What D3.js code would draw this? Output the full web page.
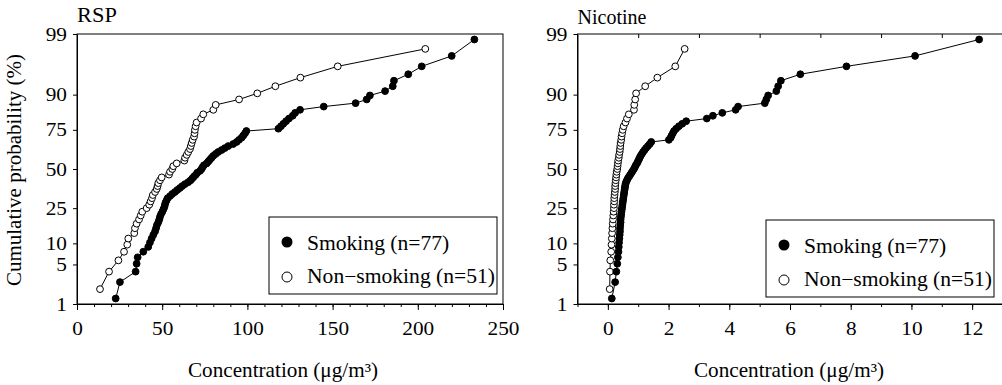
<!DOCTYPE html>
<html>
<head>
<meta charset="utf-8">
<script src="https://cdn.jsdelivr.net/npm/d3@7"></script>
<style>
  body { margin: 0; background: #fff; }
</style>
</head>
<body>
<div id="graph"></div>
<script>
// cumulative probability ticks (%)
const probTicks = [1, 5, 10, 25, 50, 75, 90, 99];

// RSP concentrations (ug/m3), sorted
const rspSmoking = [22.7, 25.2, 34.4, 35.0, 35.6, 38.9, 41.8, 42.8, 43.8, 44.8, 45.8, 46.4, 46.9, 47.7, 48.3,
  48.7, 49.3, 50.1, 50.7, 51.3, 51.6, 52.0, 52.6, 53.2, 54.6, 55.9, 57.5, 58.9, 60.4, 61.8, 63.4, 65.3, 66.7,
  67.7, 68.7, 69.8, 70.6, 72.2, 73.1, 73.7, 74.5, 76.1, 77.1, 78.0, 79.0, 80.0, 81.4, 82.9, 84.9, 86.8, 88.8,
  91.7, 93.7, 95.1, 96.6, 97.6, 98.6, 99.4, 118.2, 119.7, 121.1, 122.7, 124.4, 126.6, 128.0, 130.9, 144.8,
  163.5, 170.0, 171.9, 180.8, 185.3, 186.0, 194.4, 202.3, 219.9, 233.2];
const rspNonSmoking = [13.5, 18.8, 24.3, 27.6, 29.5, 30.1, 33.6, 34.0, 35.0, 36.4, 37.4, 38.3, 40.9, 42.4, 43.2,
  44.0, 44.5, 45.8, 46.8, 47.3, 47.7, 48.7, 49.7, 54.0, 54.6, 55.9, 56.5, 58.5, 63.0, 63.4, 64.4, 65.3, 66.3,
  66.8, 67.3, 67.9, 68.7, 69.0, 69.2, 69.6, 70.2, 72.8, 74.1, 80.0, 81.4, 95.1, 105.8, 116.4, 131.1, 153.0, 204.4];

// Nicotine concentrations (ug/m3), sorted
const nicSmoking = [0.13, 0.24, 0.28, 0.31, 0.33, 0.35, 0.36, 0.37, 0.38, 0.39, 0.40, 0.40, 0.41, 0.42, 0.42,
  0.43, 0.44, 0.45, 0.46, 0.47, 0.48, 0.49, 0.50, 0.51, 0.52, 0.53, 0.54, 0.55, 0.56, 0.57, 0.58, 0.60, 0.63,
  0.66, 0.70, 0.74, 0.78, 0.82, 0.86, 0.89, 0.92, 0.96, 0.99, 1.02, 1.05, 1.08, 1.12, 1.16, 1.21, 1.26, 1.32,
  1.38, 1.43, 2.01, 2.07, 2.10, 2.14, 2.18, 2.25, 2.34, 2.45, 2.58, 3.26, 3.46, 3.77, 4.21, 4.29, 5.17, 5.22,
  5.28, 5.55, 5.61, 5.70, 6.34, 7.86, 10.12, 12.23];
const nicNonSmoking = [0.06, 0.07, 0.08, 0.11, 0.12, 0.13, 0.14, 0.15, 0.16, 0.17, 0.18, 0.19, 0.20, 0.20, 0.21,
  0.21, 0.22, 0.23, 0.24, 0.24, 0.25, 0.26, 0.27, 0.28, 0.29, 0.31, 0.32, 0.33, 0.34, 0.36, 0.37, 0.39, 0.40,
  0.41, 0.42, 0.44, 0.45, 0.47, 0.49, 0.52, 0.58, 0.63, 0.69, 0.86, 0.87, 0.90, 0.93, 1.23, 1.63, 2.22, 2.53];

const legendLabels = ["Smoking (n=77)", "Non\u2212smoking (n=51)"];

const serif = "'Liberation Serif', 'DejaVu Serif', 'Times New Roman', serif";

// inverse normal CDF (Acklam) for the probability axis
function probit(p) {
  const a = [-39.69683028665376, 220.9460984245205, -275.9285104469687, 138.3577518672690, -30.66479806614716, 2.506628277459239];
  const b = [-54.47609879822406, 161.5858368580409, -155.6989798598866, 66.80131188771972, -13.28068155288572];
  const c = [-0.007784894002430293, -0.3223964580411365, -2.400758277161838, -2.549732539343734, 4.374664141464968, 2.938163982698783];
  const d = [0.007784695709041462, 0.3224671290700398, 2.445134137142996, 3.754408661907416];
  const pl = 0.02425;
  let q, r;
  if (p < pl) {
    q = Math.sqrt(-2 * Math.log(p));
    return (((((c[0]*q+c[1])*q+c[2])*q+c[3])*q+c[4])*q+c[5]) / ((((d[0]*q+d[1])*q+d[2])*q+d[3])*q+1);
  }
  if (p > 1 - pl) {
    q = Math.sqrt(-2 * Math.log(1 - p));
    return -(((((c[0]*q+c[1])*q+c[2])*q+c[3])*q+c[4])*q+c[5]) / ((((d[0]*q+d[1])*q+d[2])*q+d[3])*q+1);
  }
  q = p - 0.5; r = q * q;
  return (((((a[0]*r+a[1])*r+a[2])*r+a[3])*r+a[4])*r+a[5])*q / (((((b[0]*r+b[1])*r+b[2])*r+b[3])*r+b[4])*r+1);
}

const svg = d3.select("#graph").append("svg")
  .attr("width", 1002)
  .attr("height", 385)
  .attr("font-family", serif);

const yTop = 34, yBottom = 304;
const y = d3.scaleLinear().domain([probit(0.01), probit(0.99)]).range([yBottom, yTop]);

// text is a bit wider than plain Times in the original
function stretch(sel, sx) {
  sel.attr("transform", "scale(" + sx + ",1)");
}

function drawPanel(opt) {
  const x = d3.scaleLinear().domain(opt.domain).range(opt.range);
  const g = svg.append("g");

  // frame
  g.append("rect")
    .attr("x", opt.range[0]).attr("y", yTop)
    .attr("width", opt.range[1] - opt.range[0]).attr("height", yBottom - yTop)
    .attr("fill", "none").attr("stroke", "#000").attr("stroke-width", 1);

  // x axis: minor then major ticks
  g.append("g").attr("transform", "translate(0," + yBottom + ")")
    .call(d3.axisBottom(x).tickValues(d3.range(opt.domain[0], opt.domain[1] + 1e-9, opt.minor))
      .tickSize(3).tickSizeOuter(0).tickFormat(""));
  const xa = g.append("g").attr("transform", "translate(0," + yBottom + ")")
    .call(d3.axisBottom(x).tickValues(opt.major).tickSize(6).tickSizeOuter(0).tickPadding(12).tickFormat(d3.format("d")));
  xa.selectAll("text").attr("font-family", serif).style("font-size", "19px").call(stretch, 1.12);

  // top ticks (inside)
  if (opt.topTicks) {
    g.append("g").attr("transform", "translate(0," + yTop + ")")
      .call(d3.axisBottom(x).tickValues(opt.topTicks).tickSize(4).tickSizeOuter(0).tickFormat(""))
      .select(".domain").remove();
  }

  // y axis
  const ya = g.append("g").attr("transform", "translate(" + opt.range[0] + ",0)")
    .call(d3.axisLeft(y).tickValues(probTicks.map(p => probit(p / 100)))
      .tickFormat((d, i) => probTicks[i]).tickSize(4).tickSizeOuter(0).tickPadding(5));
  ya.selectAll("text").attr("font-family", serif).style("font-size", "19px").call(stretch, 1.12);
  g.selectAll(".domain, .tick line").attr("stroke", "#000");

  // series: non-smoking first, then smoking
  const series = [
    {values: opt.non, fill: "#fff"},
    {values: opt.smoke, fill: "#000"}
  ];
  const line = d3.line().x(d => x(d.c)).y(d => y(d.z));
  series.forEach(s => {
    const n = s.values.length;
    const pts = s.values.map((v, i) => ({c: v, z: probit((i + 1) / (n + 1))}));
    g.append("path").attr("d", line(pts))
      .attr("fill", "none").attr("stroke", "#000").attr("stroke-width", 1);
    g.selectAll(null).data(pts).enter().append("circle")
      .attr("cx", d => x(d.c)).attr("cy", d => y(d.z)).attr("r", 3.4)
      .attr("fill", s.fill).attr("stroke", "#000").attr("stroke-width", 1);
  });

  // panel title
  g.append("text")
    .attr("transform", "translate(" + opt.range[0] + "," + opt.titleY + ") scale(" + opt.titleScale + ",1)")
    .style("font-size", "20px").text(opt.title);

  // x title
  g.append("text").attr("transform", "translate(" + opt.xTitleX + ",377) scale(1.06,1)")
    .attr("text-anchor", "middle").style("font-size", "20px")
    .text("Concentration (\u03bcg/m\u00b3)");

  // legend
  const lg = g.append("g").attr("transform", "translate(" + opt.legend[0] + "," + opt.legend[1] + ")");
  lg.append("rect").attr("width", 228).attr("height", 77)
    .attr("fill", "#fff").attr("stroke", "#000").attr("stroke-width", 1);
  lg.append("circle").attr("cx", 18).attr("cy", 25).attr("r", 5.5).attr("fill", "#000");
  lg.append("circle").attr("cx", 18).attr("cy", 60).attr("r", 5)
    .attr("fill", "#fff").attr("stroke", "#000").attr("stroke-width", 1);
  lg.selectAll("text.lab").data(legendLabels).enter().append("text")
    .attr("transform", (d, i) => "translate(38," + (33 + i * 33) + ") scale(1.08,1)")
    .style("font-size", "20px").text(d => d);
}

drawPanel({
  title: "RSP", titleY: 22, titleScale: 1.12,
  domain: [0, 250], range: [77, 503],
  major: d3.range(0, 251, 50), minor: 10,
  smoke: rspSmoking, non: rspNonSmoking,
  xTitleX: 283, legend: [269, 217]
});

drawPanel({
  title: "Nicotine", titleY: 24, titleScale: 1.0,
  domain: [-1, 13], range: [577.5, 1002.5],
  major: d3.range(0, 13, 2), minor: 1, topTicks: [1, 3, 5, 7, 9, 11],
  smoke: nicSmoking, non: nicNonSmoking,
  xTitleX: 789, legend: [766, 220]
});

// y axis title
svg.append("text")
  .attr("transform", "translate(21,170) rotate(-90)")
  .attr("text-anchor", "middle").style("font-size", "21px")
  .text("Cumulative probability (%)");
</script>
</body>
</html>
